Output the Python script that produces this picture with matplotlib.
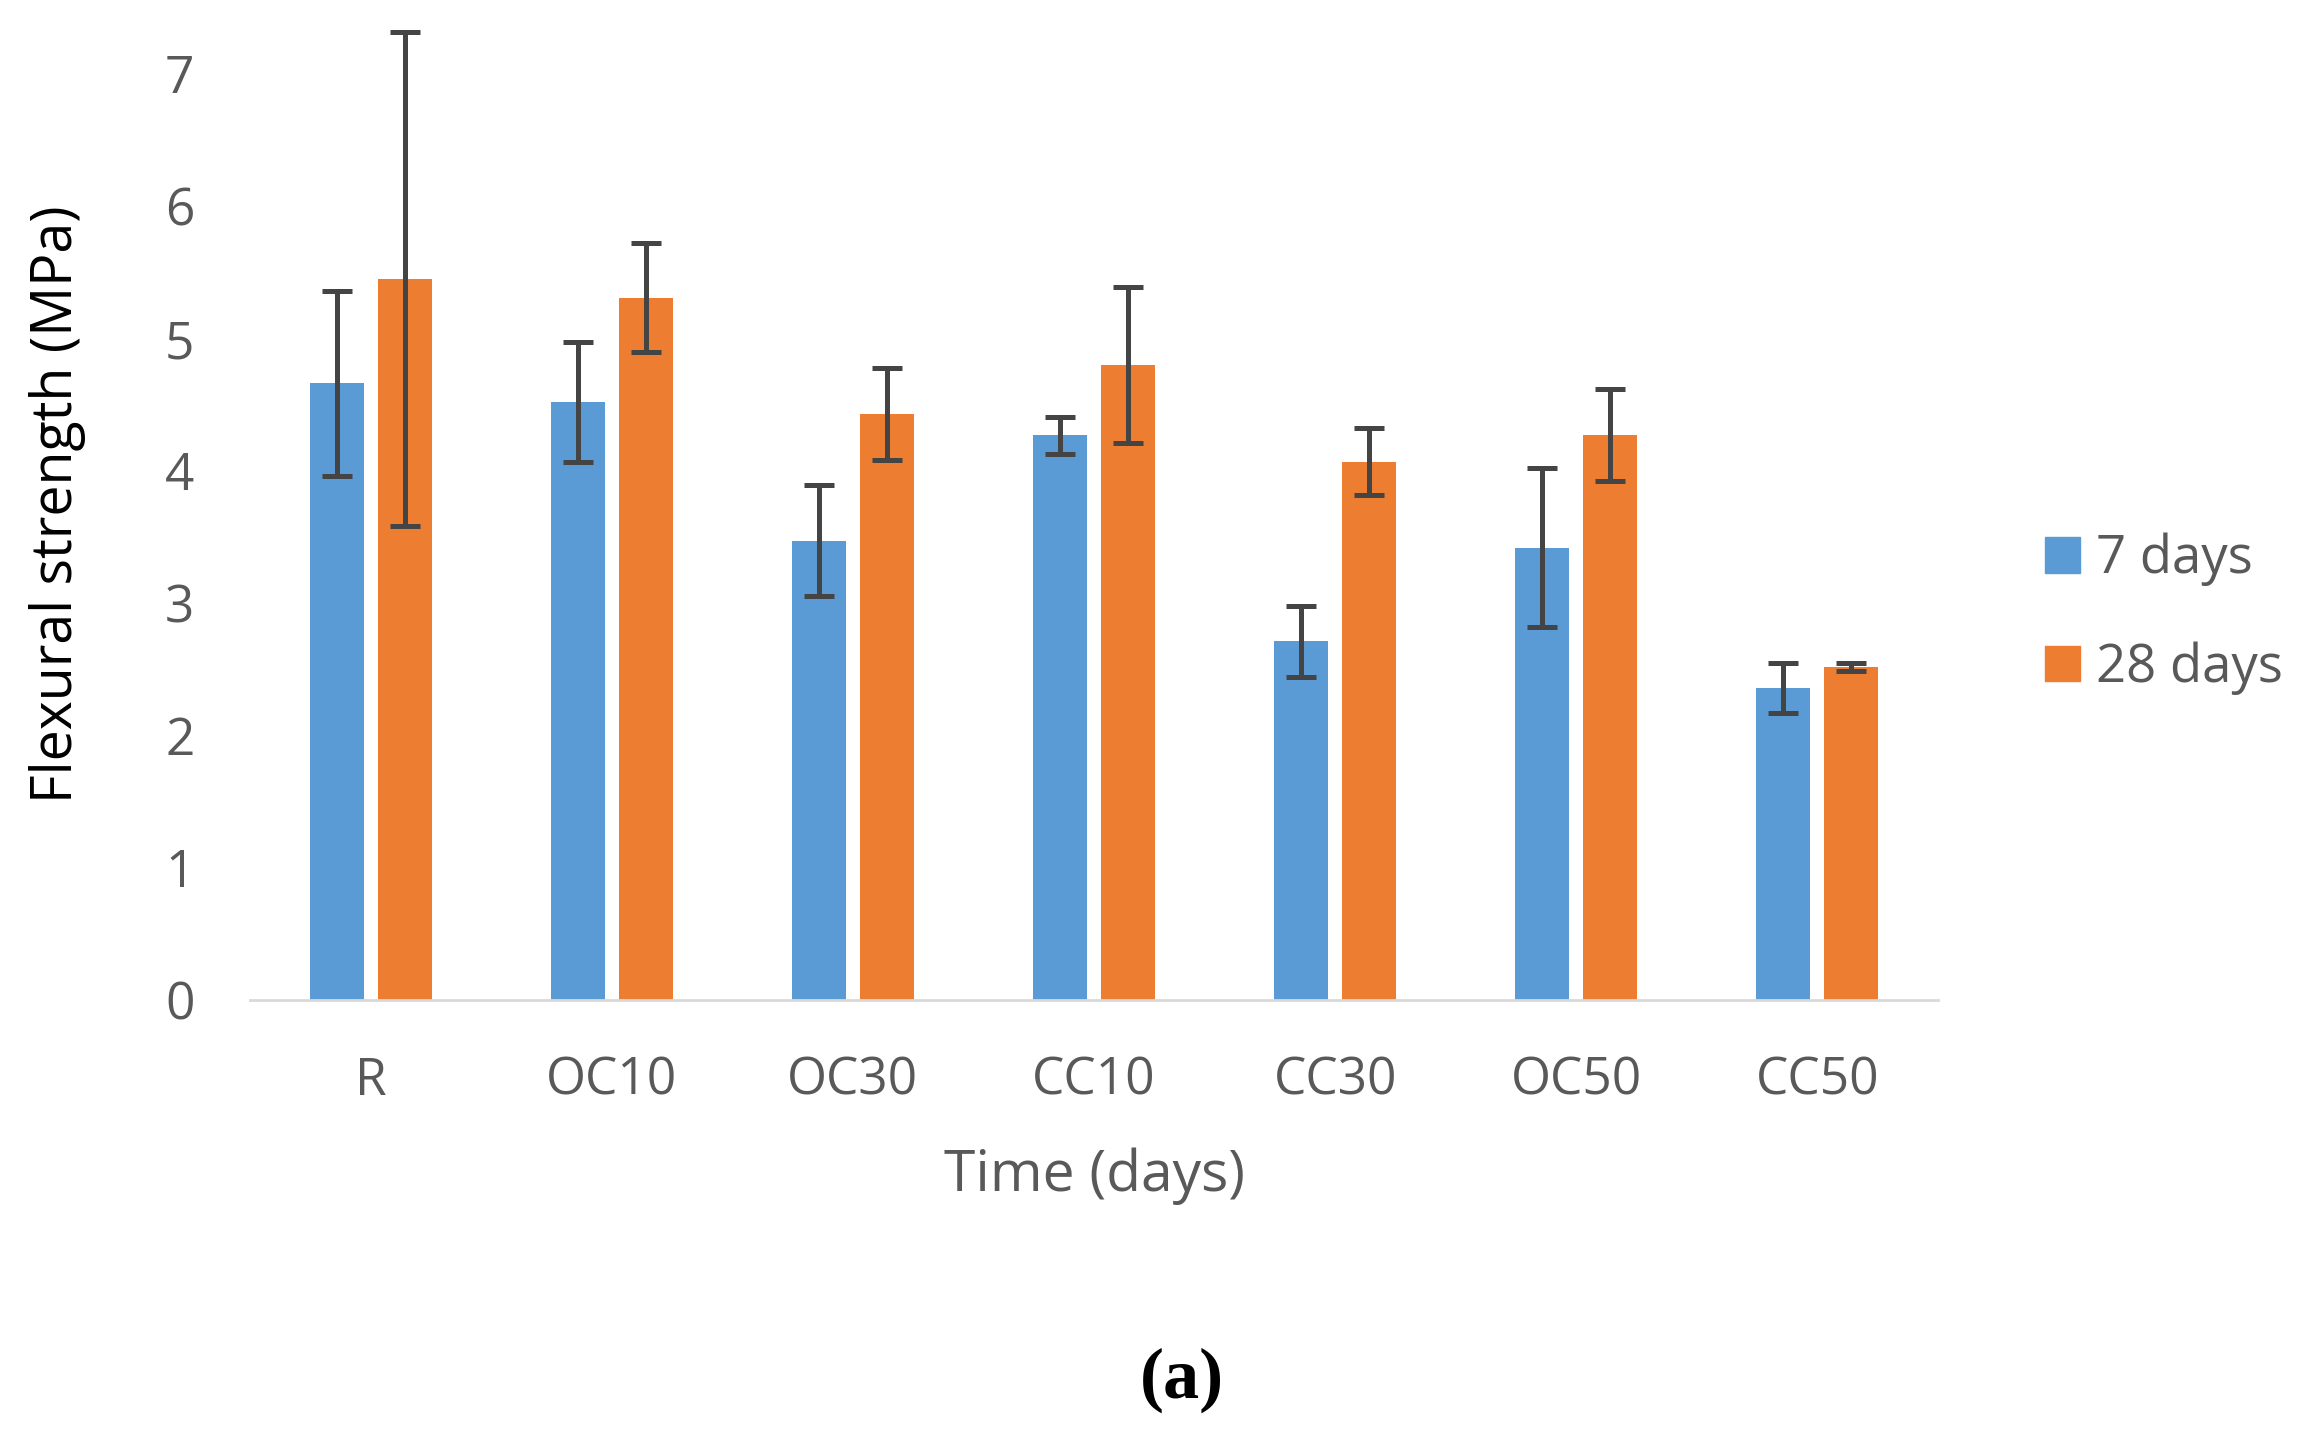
import matplotlib
matplotlib.use("Agg")
import matplotlib.pyplot as plt
import numpy as np
from matplotlib.patches import Patch

categories = ["R", "OC10", "OC30", "CC10", "CC30", "OC50", "CC50"]
days7 = [4.66, 4.52, 3.47, 4.27, 2.71, 3.42, 2.36]
days7_err = [0.70, 0.45, 0.42, 0.14, 0.27, 0.60, 0.19]
days28 = [5.45, 5.31, 4.43, 4.80, 4.07, 4.27, 2.52]
days28_err = [1.87, 0.41, 0.35, 0.59, 0.25, 0.35, 0.03]
series_labels = ["7 days", "28 days"]
yticks = [0, 1, 2, 3, 4, 5, 6, 7]

BLUE = "#5B9BD5"
ORANGE = "#ED7D31"
GRAY_TXT = "#595959"
ERR = "#444444"

plt.rcParams['font.family'] = ['Open Sans', 'DejaVu Sans']

fig = plt.figure(figsize=(23.02, 14.30), dpi=100)
ax = fig.add_axes([250/2302, 1 - 1000/1430, (1938-250)/2302, (1000-21)/1430])

x = np.arange(len(categories))
w = 0.224
off = 0.141
ekw = dict(ecolor=ERR, elinewidth=3.6, capsize=10.5, capthick=3.6)
ax.bar(x - off, days7, w, color=BLUE, yerr=days7_err, error_kw=ekw, zorder=2)
ax.bar(x + off, days28, w, color=ORANGE, yerr=days28_err, error_kw=ekw, zorder=2)

ax.set_xlim(-0.5, len(categories) - 0.5)
ax.set_ylim(0, 7.4)
ax.set_yticks(yticks)
ax.set_yticklabels([str(t) for t in yticks])
ax.set_xticks(x)
ax.set_xticklabels(categories)
ax.tick_params(axis='y', length=0, pad=40, labelsize=37, labelcolor=GRAY_TXT)
ax.tick_params(axis='x', length=0, pad=40, labelsize=37, labelcolor=GRAY_TXT)

for s in ['top', 'right', 'left']:
    ax.spines[s].set_visible(False)
ax.spines['bottom'].set_color('#D9D9D9')
ax.spines['bottom'].set_linewidth(2)
ax.spines['bottom'].set_zorder(3)

ax.set_ylabel("Flexural strength (MPa)", fontsize=40, color='black')
ax.yaxis.set_label_coords(-0.114, 0.506)
ax.yaxis.label.set_va('center')
ax.set_xlabel("Time (days)", fontsize=41, color=GRAY_TXT)
ax.xaxis.set_label_coords(0.5, -0.18)
ax.xaxis.label.set_va('center')

handles = [Patch(color=BLUE), Patch(color=ORANGE)]
fig.legend(handles, series_labels, loc='center left',
           bbox_to_anchor=(2045/2302, 1 - 614/1430), bbox_transform=fig.transFigure,
           frameon=False, fontsize=38, labelcolor=GRAY_TXT,
           handlelength=0.66, handleheight=0.66, handletextpad=0.3,
           labelspacing=1.05, borderpad=0, borderaxespad=0)

fig.text(1182/2302, 1 - 1380/1430, "(a)", ha='center', va='center',
         fontsize=52, fontweight='bold', family=['Liberation Serif', 'DejaVu Serif'])

fig.savefig("out.png", dpi=100, facecolor='white')
